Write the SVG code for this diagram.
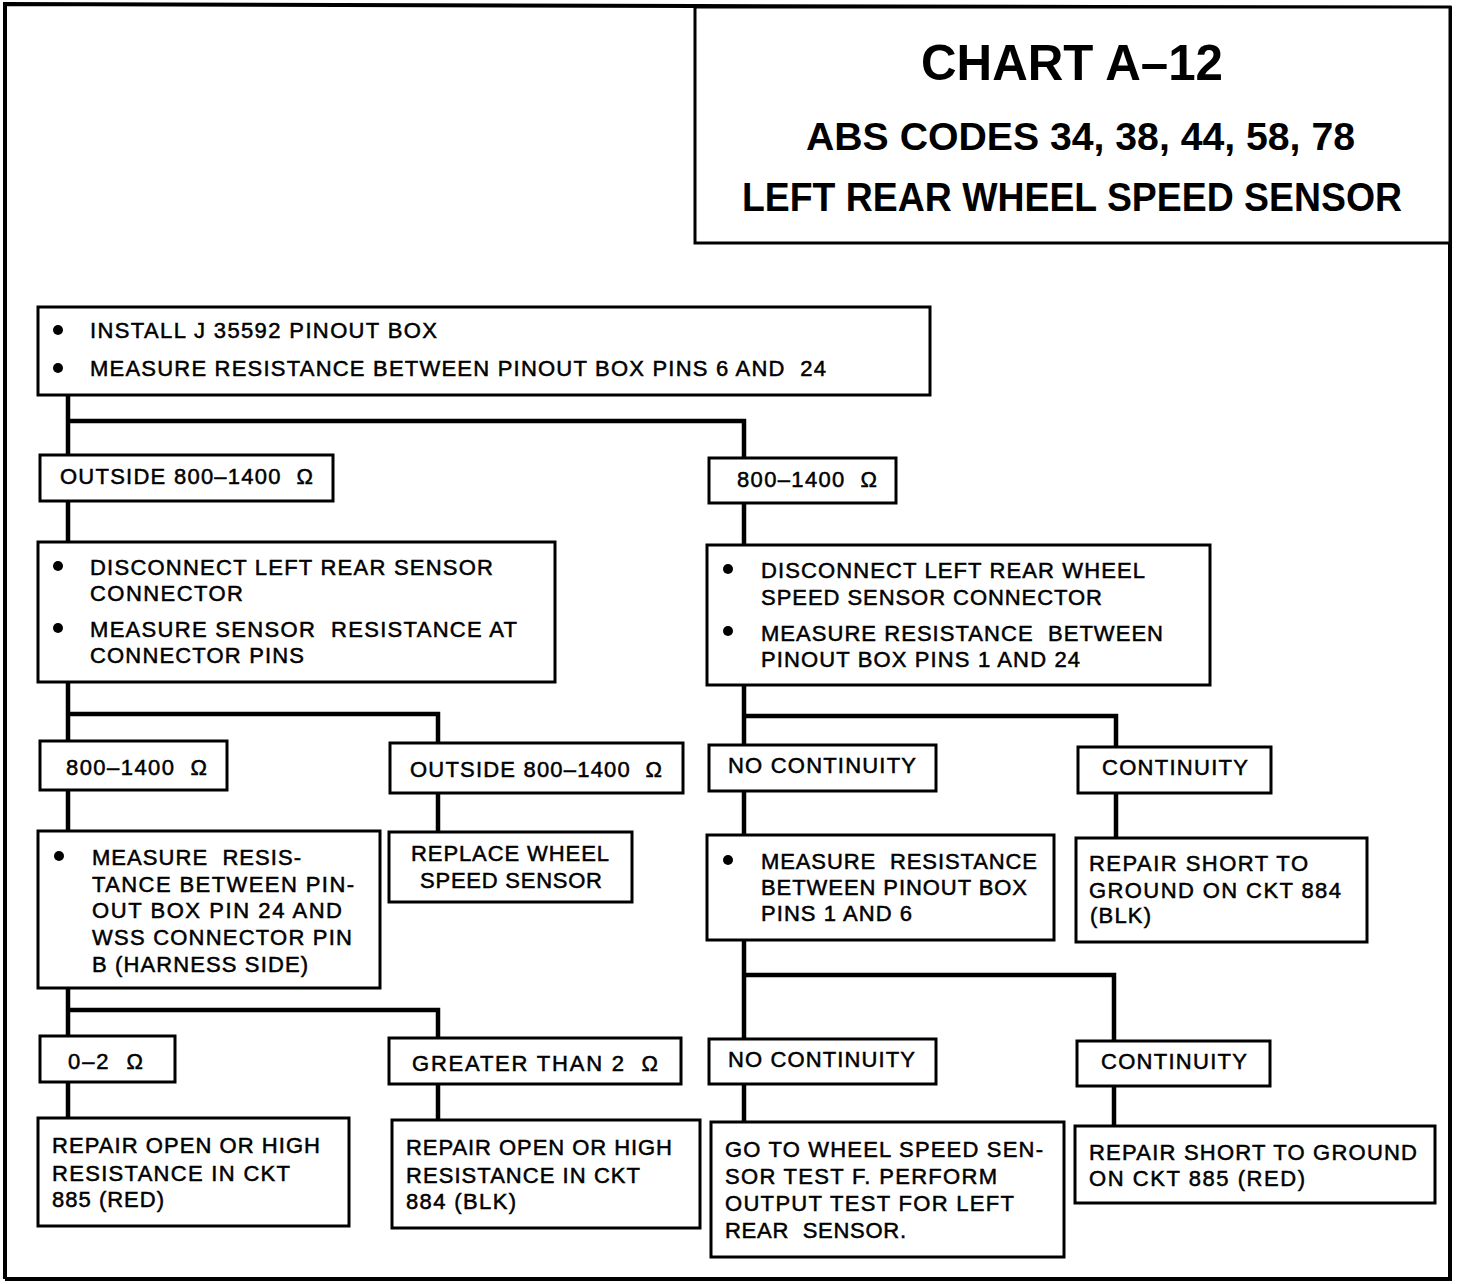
<svg xmlns="http://www.w3.org/2000/svg" width="1472" height="1284" viewBox="0 0 1472 1284" xml:space="preserve">
<style>
.box{fill:#fff;stroke:#000;stroke-width:3}
.frame{fill:none;stroke:#000;stroke-width:4}
.con{fill:none;stroke:#000;stroke-width:4.5;stroke-linejoin:miter}
.t{font-family:"Liberation Sans",Arial,sans-serif;font-size:22px;fill:#000;stroke:#000;stroke-width:0.5;white-space:pre}
.title{font-family:"Liberation Sans",Arial,sans-serif;font-weight:bold;fill:#000}
</style>
<rect width="1472" height="1284" fill="#fff"/>
<g id="frame">
<path class="frame" d="M5,1279 L5,4 L695,6 M695,6 L1450,8 L1450,1279 L5,1279"/>
</g>
<g id="title">
<rect class="box" x="695" y="7" width="755" height="236"/>
<text class="title" x="921" y="80" font-size="50" textLength="302" lengthAdjust="spacingAndGlyphs">CHART A–12</text>
<text class="title" x="806" y="150" font-size="38" textLength="549" lengthAdjust="spacingAndGlyphs">ABS CODES 34, 38, 44, 58, 78</text>
<text class="title" x="742" y="211" font-size="40" textLength="660" lengthAdjust="spacingAndGlyphs">LEFT REAR WHEEL SPEED SENSOR</text>
</g>
<g id="connectors">
<path class="con" d="M68,395 L68,455 M68,421 L744,421 L744,458"/>
<path class="con" d="M68,501 L68,542"/>
<path class="con" d="M744,503 L744,545"/>
<path class="con" d="M68,682 L68,741 M68,714 L438,714 L438,743"/>
<path class="con" d="M744,685 L744,745 M744,716 L1116,716 L1116,747"/>
<path class="con" d="M68,790 L68,831"/>
<path class="con" d="M438,793 L438,832"/>
<path class="con" d="M744,791 L744,835"/>
<path class="con" d="M1116,793 L1116,838"/>
<path class="con" d="M68,988 L68,1036 M68,1010 L438,1010 L438,1038"/>
<path class="con" d="M744,940 L744,1039 M744,975 L1114,975 L1114,1041"/>
<path class="con" d="M68,1082 L68,1118"/>
<path class="con" d="M438,1084 L438,1120"/>
<path class="con" d="M744,1084 L744,1122"/>
<path class="con" d="M1114,1086 L1114,1126"/>
</g>
<g id="n1">
<rect class="box" x="38" y="307" width="892" height="88"/>
<circle cx="58" cy="330" r="5"/>
<circle cx="58" cy="368" r="5"/>
<text class="t" x="90" y="338" textLength="347" lengthAdjust="spacing">INSTALL J 35592 PINOUT BOX</text>
<text class="t" x="90" y="376" textLength="736" lengthAdjust="spacing">MEASURE RESISTANCE BETWEEN PINOUT BOX PINS 6 AND  24</text>
</g>
<g id="n2">
<rect class="box" x="40" y="455" width="293" height="46"/>
<text class="t" x="60" y="484" textLength="253" lengthAdjust="spacing">OUTSIDE 800–1400  Ω</text>
</g>
<g id="n3">
<rect class="box" x="709" y="458" width="187" height="45"/>
<text class="t" x="737" y="487" textLength="140" lengthAdjust="spacing">800–1400  Ω</text>
</g>
<g id="n4">
<rect class="box" x="38" y="542" width="517" height="140"/>
<circle cx="58" cy="566" r="5"/>
<circle cx="58" cy="628" r="5"/>
<text class="t" x="90" y="575" textLength="403" lengthAdjust="spacing">DISCONNECT LEFT REAR SENSOR</text>
<text class="t" x="90" y="601" textLength="153" lengthAdjust="spacing">CONNECTOR</text>
<text class="t" x="90" y="637" textLength="427" lengthAdjust="spacing">MEASURE SENSOR  RESISTANCE AT</text>
<text class="t" x="90" y="663" textLength="214" lengthAdjust="spacing">CONNECTOR PINS</text>
</g>
<g id="n5">
<rect class="box" x="707" y="545" width="503" height="140"/>
<circle cx="728" cy="569" r="5"/>
<circle cx="728" cy="631" r="5"/>
<text class="t" x="761" y="578" textLength="384" lengthAdjust="spacing">DISCONNECT LEFT REAR WHEEL</text>
<text class="t" x="761" y="605" textLength="341" lengthAdjust="spacing">SPEED SENSOR CONNECTOR</text>
<text class="t" x="761" y="641" textLength="402" lengthAdjust="spacing">MEASURE RESISTANCE  BETWEEN</text>
<text class="t" x="761" y="667" textLength="319" lengthAdjust="spacing">PINOUT BOX PINS 1 AND 24</text>
</g>
<g id="n6">
<rect class="box" x="40" y="741" width="187" height="49"/>
<text class="t" x="66" y="775" textLength="141" lengthAdjust="spacing">800–1400  Ω</text>
</g>
<g id="n7">
<rect class="box" x="390" y="743" width="293" height="50"/>
<text class="t" x="410" y="777" textLength="252" lengthAdjust="spacing">OUTSIDE 800–1400  Ω</text>
</g>
<g id="n8">
<rect class="box" x="709" y="745" width="227" height="46"/>
<text class="t" x="728" y="773" textLength="188" lengthAdjust="spacing">NO CONTINUITY</text>
</g>
<g id="n9">
<rect class="box" x="1078" y="747" width="193" height="46"/>
<text class="t" x="1102" y="775" textLength="146" lengthAdjust="spacing">CONTINUITY</text>
</g>
<g id="n10">
<rect class="box" x="38" y="831" width="342" height="157"/>
<circle cx="59" cy="856" r="5"/>
<text class="t" x="92" y="865" textLength="209" lengthAdjust="spacing">MEASURE  RESIS-</text>
<text class="t" x="92" y="892" textLength="262" lengthAdjust="spacing">TANCE BETWEEN PIN-</text>
<text class="t" x="92" y="918" textLength="250" lengthAdjust="spacing">OUT BOX PIN 24 AND</text>
<text class="t" x="92" y="945" textLength="260" lengthAdjust="spacing">WSS CONNECTOR PIN</text>
<text class="t" x="92" y="972" textLength="216" lengthAdjust="spacing">B (HARNESS SIDE)</text>
</g>
<g id="n11">
<rect class="box" x="389" y="832" width="243" height="70"/>
<text class="t" x="411" y="861" textLength="198" lengthAdjust="spacing">REPLACE WHEEL</text>
<text class="t" x="420" y="888" textLength="182" lengthAdjust="spacing">SPEED SENSOR</text>
</g>
<g id="n12">
<rect class="box" x="707" y="835" width="347" height="105"/>
<circle cx="728" cy="860" r="5"/>
<text class="t" x="761" y="869" textLength="276" lengthAdjust="spacing">MEASURE  RESISTANCE</text>
<text class="t" x="761" y="895" textLength="266" lengthAdjust="spacing">BETWEEN PINOUT BOX</text>
<text class="t" x="761" y="921" textLength="151" lengthAdjust="spacing">PINS 1 AND 6</text>
</g>
<g id="n13">
<rect class="box" x="1076" y="838" width="291" height="104"/>
<text class="t" x="1089" y="871" textLength="219" lengthAdjust="spacing">REPAIR SHORT TO</text>
<text class="t" x="1089" y="898" textLength="252" lengthAdjust="spacing">GROUND ON CKT 884</text>
<text class="t" x="1090" y="923" textLength="61" lengthAdjust="spacing">(BLK)</text>
</g>
<g id="n14">
<rect class="box" x="40" y="1036" width="135" height="46"/>
<text class="t" x="68" y="1069" textLength="75" lengthAdjust="spacing">0–2  Ω</text>
</g>
<g id="n15">
<rect class="box" x="389" y="1038" width="292" height="46"/>
<text class="t" x="412" y="1071" textLength="246" lengthAdjust="spacing">GREATER THAN 2  Ω</text>
</g>
<g id="n16">
<rect class="box" x="709" y="1039" width="227" height="45"/>
<text class="t" x="728" y="1067" textLength="187" lengthAdjust="spacing">NO CONTINUITY</text>
</g>
<g id="n17">
<rect class="box" x="1077" y="1041" width="193" height="45"/>
<text class="t" x="1101" y="1069" textLength="146" lengthAdjust="spacing">CONTINUITY</text>
</g>
<g id="n18">
<rect class="box" x="38" y="1118" width="311" height="108"/>
<text class="t" x="52" y="1153" textLength="268" lengthAdjust="spacing">REPAIR OPEN OR HIGH</text>
<text class="t" x="52" y="1181" textLength="238" lengthAdjust="spacing">RESISTANCE IN CKT</text>
<text class="t" x="52" y="1207" textLength="112" lengthAdjust="spacing">885 (RED)</text>
</g>
<g id="n19">
<rect class="box" x="392" y="1120" width="308" height="108"/>
<text class="t" x="406" y="1155" textLength="266" lengthAdjust="spacing">REPAIR OPEN OR HIGH</text>
<text class="t" x="406" y="1183" textLength="234" lengthAdjust="spacing">RESISTANCE IN CKT</text>
<text class="t" x="406" y="1209" textLength="110" lengthAdjust="spacing">884 (BLK)</text>
</g>
<g id="n20">
<rect class="box" x="711" y="1122" width="353" height="135"/>
<text class="t" x="725" y="1157" textLength="318" lengthAdjust="spacing">GO TO WHEEL SPEED SEN-</text>
<text class="t" x="725" y="1184" textLength="272" lengthAdjust="spacing">SOR TEST F. PERFORM</text>
<text class="t" x="725" y="1211" textLength="289" lengthAdjust="spacing">OUTPUT TEST FOR LEFT</text>
<text class="t" x="725" y="1238" textLength="181" lengthAdjust="spacing">REAR  SENSOR.</text>
</g>
<g id="n21">
<rect class="box" x="1075" y="1126" width="360" height="77"/>
<text class="t" x="1089" y="1160" textLength="328" lengthAdjust="spacing">REPAIR SHORT TO GROUND</text>
<text class="t" x="1089" y="1186" textLength="216" lengthAdjust="spacing">ON CKT 885 (RED)</text>
</g>
</svg>
